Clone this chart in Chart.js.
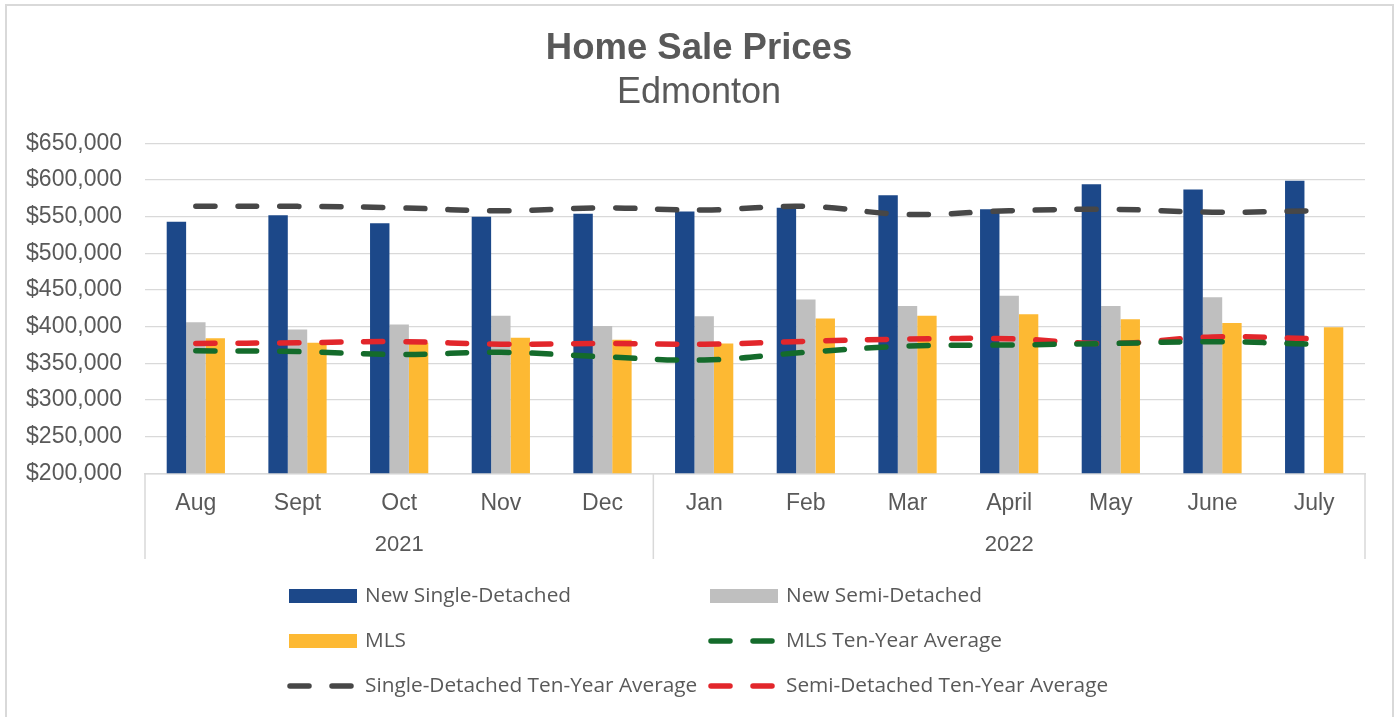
<!DOCTYPE html>
<html><head><meta charset="utf-8">
<script src="https://cdn.jsdelivr.net/npm/chart.js@4"></script>
<style>
html,body{margin:0;padding:0;background:#fff;}
#wrap{position:relative;width:1395px;height:717px;overflow:hidden;background:#fff;}
#frame{position:absolute;left:5px;top:4px;width:1389px;height:740px;border:2px solid #d9d9d9;box-sizing:border-box;pointer-events:none;}
canvas{position:absolute;left:0;top:0;}
</style></head>
<body><div id="wrap"><canvas id="c" width="1395" height="717"></canvas><div id="frame"></div></div>
<script>
// ---- data ----
const titleText = 'Home Sale Prices';
const subtitleText = 'Edmonton';
const months = ['Aug','Sept','Oct','Nov','Dec','Jan','Feb','Mar','April','May','June','July'];
const yearLabels = ['2021','2022'];
const yearCounts = [5, 7];
const newSingle = [543000,552000,541000,550000,554000,557000,562000,579000,560000,594000,587000,599000];
const newSemi   = [406000,396000,403000,415000,401000,414000,437000,428000,442000,428000,440000,196000];
const mls       = [384000,378000,378000,385000,382000,377000,411000,415000,417000,410000,405000,399000];
const mlsAvg    = [367000,366000,362000,365000,359000,354500,365000,373500,375000,377000,379500,376000];
const singleAvg = [564000,564000,562000,558000,562000,559000,564000,553000,558000,560000,556000,558000];
const semiAvg   = [377000,378000,379500,376000,377000,376000,380000,383000,383500,377000,386000,383500];
const yMin = 200000, yMax = 650000, yStep = 50000;

const TXT = '#595959';
const GRID = '#d9d9d9';
const FONT = "'Liberation Sans', Arial, sans-serif";
const LEGEND_FONT = "'Open Sans', sans-serif";

function lineDs(label, data, color){
  return {type:'line', label, data, borderColor:color, backgroundColor:color,
    borderWidth:5.5, borderDash:[19,23], borderCapStyle:'round', pointRadius:0,
    pointHoverRadius:0, tension:0.4, fill:false, order:0};
}
function barDs(label, data, color){
  return {type:'bar', label, data, backgroundColor:color, borderWidth:0,
    categoryPercentage:0.573, barPercentage:1.0, order:1};
}

const datasets = [
  barDs('New Single-Detached', newSingle, '#1c4889'),
  barDs('New Semi-Detached', newSemi, '#bfbfbf'),
  barDs('MLS', mls, '#fdb933'),
  lineDs('MLS Ten-Year Average', mlsAvg, '#146b2b'),
  lineDs('Single-Detached Ten-Year Average', singleAvg, '#474747'),
  lineDs('Semi-Detached Ten-Year Average', semiAvg, '#e2262b'),
];

const titlePlugin = {
  id:'centerTitle',
  afterDraw(chart){
    const ctx = chart.ctx;
    const cx = chart.width / 2 + 1.5;
    ctx.save();
    ctx.fillStyle = TXT;
    ctx.textAlign = 'center';
    ctx.textBaseline = 'alphabetic';
    ctx.font = 'bold 36.5px ' + FONT;
    ctx.fillText(titleText, cx, 59);
    ctx.font = '36px ' + FONT;
    ctx.fillText(subtitleText, cx, 103);
    ctx.restore();
  }
};

const yearAxisPlugin = {
  id:'yearAxis',
  afterDraw(chart){
    const {ctx, chartArea} = chart;
    const xs = chart.scales.x;
    const bottom = 559;
    ctx.save();
    ctx.strokeStyle = GRID; ctx.lineWidth = 1.5;
    ctx.fillStyle = TXT; ctx.font = '22px ' + FONT;
    ctx.textAlign = 'center'; ctx.textBaseline = 'middle';
    let idx = 0;
    let left = chartArea.left;
    const bounds = [left];
    for (let g = 0; g < yearCounts.length; g++){
      const end = idx + yearCounts[g] - 1;
      const right = (end === months.length - 1) ? chartArea.right
        : (xs.getPixelForValue(end) + xs.getPixelForValue(end + 1)) / 2;
      ctx.fillText(yearLabels[g], (left + right) / 2, 545);
      bounds.push(right);
      left = right; idx = end + 1;
    }
    bounds.forEach(b => {
      ctx.beginPath(); ctx.moveTo(b, chartArea.bottom); ctx.lineTo(b, bottom); ctx.stroke();
    });
    ctx.restore();
  }
};

const legendPlugin = {
  id:'gridLegend',
  afterDraw(chart){
    const ctx = chart.ctx;
    const colX = [289, 710];
    const rowY = [596, 641, 686];
    ctx.save();
    ctx.font = '20.8px ' + LEGEND_FONT;
    ctx.textBaseline = 'middle';
    ctx.textAlign = 'left';
    chart.data.datasets.forEach((ds, i) => {
      const x = colX[i % 2], y = rowY[Math.floor(i / 2)];
      if (ds.type === 'bar'){
        ctx.fillStyle = ds.backgroundColor;
        ctx.fillRect(x, y - 7, 68, 14);
      } else {
        ctx.strokeStyle = ds.borderColor;
        ctx.lineWidth = ds.borderWidth;
        ctx.lineCap = 'round';
        ctx.setLineDash(ds.borderDash);
        ctx.beginPath(); ctx.moveTo(x + 1, y); ctx.lineTo(x + 63, y); ctx.stroke();
        ctx.setLineDash([]);
      }
      ctx.fillStyle = TXT;
      ctx.fillText(ds.label, x + 76, y);
    });
    ctx.restore();
  }
};

new Chart(document.getElementById('c'), {
  type:'bar',
  data:{labels:months, datasets},
  plugins:[titlePlugin, yearAxisPlugin, legendPlugin],
  options:{
    responsive:false, devicePixelRatio:1, animation:false,
    layout:{padding:{top:143.3, left:0, right:30, bottom:157.7}},
    plugins:{
      legend:{display:false},
      tooltip:{enabled:false},
      title:{display:false},
      subtitle:{display:false}
    },
    scales:{
      x:{
        grid:{display:false, drawTicks:false},
        border:{display:true, color:GRID, width:1.5},
        ticks:{color:TXT, font:{family:FONT, size:23}, padding:17, maxRotation:0, autoSkip:false},
        afterFit(s){ s.height = 86; }
      },
      y:{
        min:yMin, max:yMax,
        grid:{color:GRID, lineWidth:1.3, drawTicks:false},
        border:{display:false},
        ticks:{stepSize:yStep, color:TXT, font:{family:FONT, size:23}, padding:23,
          callback:v => '$' + Number(v).toLocaleString('en-US')},
        afterFit(s){ s.width = 145; }
      }
    }
  }
});
</script>
</body></html>
